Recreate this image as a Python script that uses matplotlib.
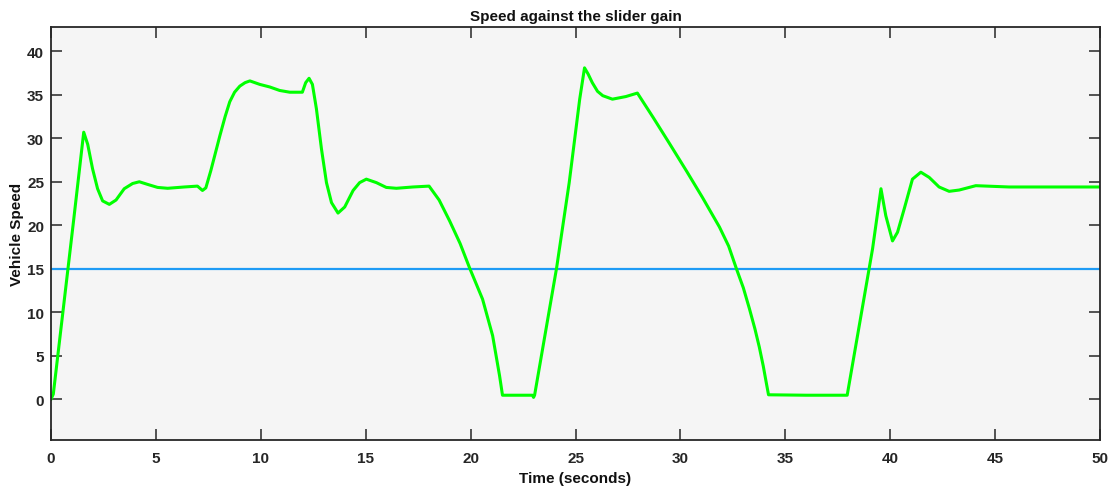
#!/usr/bin/env python3
import matplotlib
matplotlib.use('Agg')
import matplotlib.pyplot as plt

# vehicle speed trace (seconds, speed)
time_s = [0.0, 0.11, 1.08, 1.56, 1.75, 1.98, 2.22, 2.46, 2.78, 3.1, 3.49, 3.89,
          4.21, 4.6, 5.08, 5.56, 6.35, 6.98, 7.22, 7.38, 7.62, 8.05, 8.3, 8.52,
          8.75, 9.0, 9.25, 9.48, 9.95, 10.43, 10.9, 11.38, 11.98, 12.14, 12.3,
          12.46, 12.65, 12.89, 13.13, 13.37, 13.68, 14.0, 14.4, 14.71, 15.03,
          15.51, 15.98, 16.46, 17.25, 18.02, 18.5, 19.0, 19.5, 19.95, 20.57,
          21.05, 21.38, 21.52, 22.5, 22.95, 23.0, 23.05, 24.1, 24.7, 25.2,
          25.43, 25.6, 25.8, 26.05, 26.3, 26.76, 27.4, 27.95, 28.7, 29.48,
          30.3, 31.05, 31.86, 32.3, 32.67, 33.0, 33.29, 33.55, 33.76, 33.95,
          34.1, 34.2, 36.0, 37.95,
          39.16, 39.56, 39.79, 40.11, 40.35, 40.67, 41.06, 41.46, 41.86, 42.33,
          42.81, 43.29, 44.08, 45.67, 47.2, 50.0]
speed = [0.0, 0.58, 20.6, 30.7, 29.3, 26.5, 24.2, 22.8, 22.4, 22.9, 24.2, 24.8,
         25.0, 24.7, 24.35, 24.25, 24.4, 24.5, 24.0, 24.3, 26.3, 30.3, 32.5, 34.2,
         35.3, 36.0, 36.4, 36.6, 36.2, 35.9, 35.5, 35.3, 35.3, 36.4, 36.9,
         36.2, 33.4, 28.8, 24.9, 22.6, 21.4, 22.1, 24.0, 24.9, 25.3,
         24.9, 24.35, 24.25, 24.4, 24.5, 22.9, 20.5, 17.9, 15.1, 11.5,
         7.3, 2.7, 0.45, 0.45, 0.45, 0.2, 0.45, 15.1, 24.9, 34.5,
         38.1, 37.4, 36.4, 35.4, 34.9, 34.5, 34.8, 35.2, 32.4, 29.4,
         26.2, 23.2, 19.8, 17.6, 15.0, 12.8, 10.4, 8.1, 6.0, 3.8,
         1.8, 0.5, 0.45, 0.45,
         17.3, 24.2, 21.1, 18.2, 19.2, 21.9, 25.3, 26.1, 25.5, 24.4,
         23.9, 24.05, 24.55, 24.4, 24.4, 24.4]

# slider gain reference level
ref_time = [0.0, 50.0]
ref_speed = [15.0, 15.0]

x_ticks = [0, 5, 10, 15, 20, 25, 30, 35, 40, 45, 50]
y_ticks = [0, 5, 10, 15, 20, 25, 30, 35, 40]

plt.rcParams['font.family'] = ['Liberation Sans', 'DejaVu Sans']
plt.rcParams['font.weight'] = 'bold'

ink = '#262626'

fig = plt.figure(figsize=(11.13, 4.89), dpi=100)
ax = fig.add_axes([51 / 1113, 1 - 441 / 489, 1049 / 1113, 413 / 489])
ax.set_facecolor('#f5f5f5')

ax.plot(ref_time, ref_speed, color='#1e9bf5', linewidth=1.6)
ax.plot(time_s, speed, color='#00ff00', linewidth=2.2,
        solid_joinstyle='round')

ax.set_xlim(0, 50)
ax.set_ylim(-4.7, 42.8)
ax.set_xticks(x_ticks)
ax.set_yticks(y_ticks)

for side in ax.spines.values():
    side.set_color(ink)
    side.set_linewidth(1.3)

ax.tick_params(axis='both', direction='in', length=8, width=1.1, color=ink,
               labelcolor=ink, labelsize=11, top=True, right=True)
ax.tick_params(axis='x', pad=8)
ax.tick_params(axis='y', pad=5)

ax.set_title('Speed against the slider gain', fontsize=11, fontweight='bold',
             color='#111111', pad=5)
ax.set_xlabel('Time (seconds)', fontsize=11, fontweight='bold', color='#111111',
              labelpad=4.5)
ax.set_ylabel('Vehicle Speed', fontsize=11, fontweight='bold', color='#111111',
              labelpad=2)

fig.savefig('out.png', dpi=100)
